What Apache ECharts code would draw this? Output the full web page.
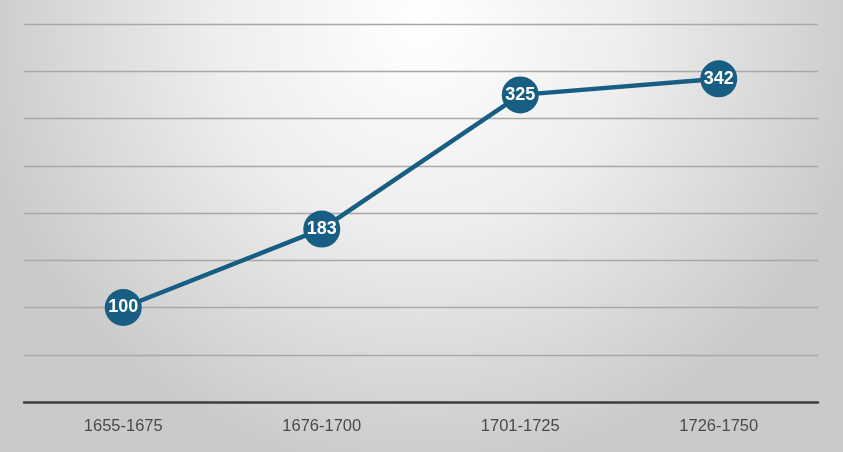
<!DOCTYPE html>
<html><head><meta charset="utf-8">
<script src="https://cdn.jsdelivr.net/npm/echarts@6/dist/echarts.min.js"></script>
<style>html,body{margin:0;padding:0;}#c{width:843px;height:452px;}</style>
</head><body><div id="c"></div>
<script>
const categories = ['1655-1675', '1676-1700', '1701-1725', '1726-1750'];
const values = [100, 183, 325, 342];

const chart = echarts.init(document.getElementById('c'));
chart.setOption({
  animation: false,
  backgroundColor: {
    type: 'radial', x: 0.5, y: 0.05, r: 1.0,
    colorStops: [
      { offset: 0, color: '#ffffff' },
      { offset: 0.45, color: '#eeeeee' },
      { offset: 1, color: '#cacaca' }
    ]
  },
  grid: { left: 24, right: 25, top: 24, bottom: 50 },
  xAxis: {
    type: 'category', data: categories, boundaryGap: true,
    axisLine: { lineStyle: { color: '#3f3f3f', width: 2.5 } },
    axisTick: { show: false },
    axisLabel: { color: '#4a4a4a', fontSize: 16.5, fontFamily: 'Liberation Sans, Arial, sans-serif', margin: 16 }
  },
  yAxis: {
    type: 'value', min: 0, max: 400, interval: 50,
    axisLabel: { show: false }, axisLine: { show: false }, axisTick: { show: false },
    splitLine: { lineStyle: { color: '#a8a8a8', width: 1.3 } }
  },
  series: [{
    type: 'line', data: values,
    symbol: 'circle', symbolSize: 37,
    lineStyle: { color: '#175e82', width: 4.5 },
    itemStyle: { color: '#175e82' },
    label: {
      show: true, position: 'inside', color: '#ffffff', fontWeight: 'bold',
      fontSize: 18, fontFamily: 'Liberation Sans, Arial, sans-serif'
    }
  }]
});
</script></body></html>
